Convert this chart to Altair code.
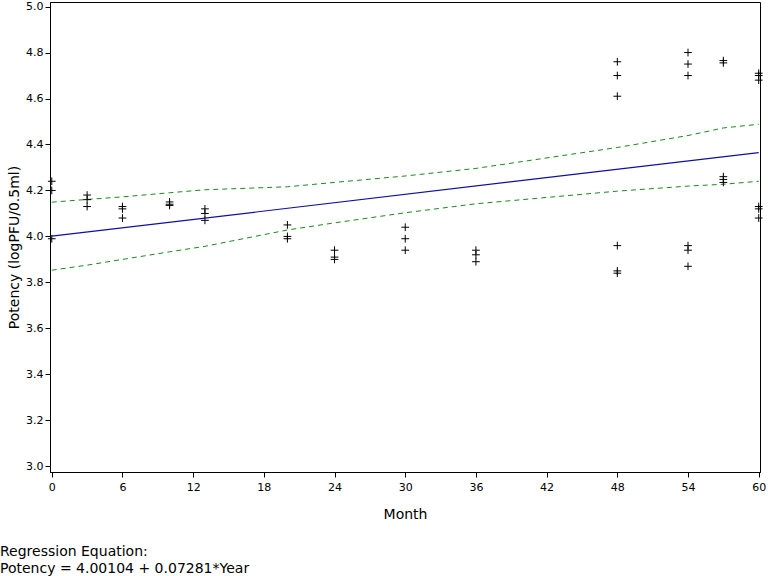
import altair as alt
import pandas as pd

# Observed potency data
months = [0, 0, 0,
          3, 3, 3,
          6, 6, 6,
          10, 10, 10,
          13, 13, 13,
          20, 20, 20,
          24, 24, 24,
          30, 30, 30,
          36, 36, 36,
          48, 48, 48, 48, 48, 48,
          54, 54, 54, 54, 54, 54,
          57, 57, 57, 57, 57,
          60, 60, 60, 60, 60, 60]
potency = [4.24, 4.20, 3.99,
           4.18, 4.16, 4.13,
           4.13, 4.12, 4.08,
           4.15, 4.14, 4.135,
           4.12, 4.10, 4.07,
           4.05, 4.00, 3.99,
           3.94, 3.91, 3.90,
           4.04, 3.99, 3.94,
           3.94, 3.92, 3.89,
           4.76, 4.70, 4.61, 3.96, 3.85, 3.84,
           4.80, 4.75, 4.70, 3.96, 3.94, 3.87,
           4.765, 4.755, 4.26, 4.248, 4.235,
           4.71, 4.70, 4.68, 4.13, 4.12, 4.08]

# Regression line (read endpoints)
reg_months = [0, 60]
reg_values = [4.001, 4.365]

# Confidence band values read at each distinct month
band_months = [0, 3, 6, 10, 13, 20, 24, 30, 36, 48, 54, 57, 60]
band_upper = [4.149, 4.161, 4.172, 4.19, 4.203, 4.216, 4.235, 4.263, 4.296, 4.387, 4.439, 4.472, 4.488]
band_lower = [3.853, 3.875, 3.90, 3.933, 3.957, 4.028, 4.059, 4.103, 4.142, 4.197, 4.219, 4.227, 4.24]

x_ticks = [0, 6, 12, 18, 24, 30, 36, 42, 48, 54, 60]
y_ticks = [3.0, 3.2, 3.4, 3.6, 3.8, 4.0, 4.2, 4.4, 4.6, 4.8, 5.0]

note_line1 = "Regression Equation:"
note_line2 = "Potency = 4.00104 + 0.07281*Year"

FONT = "DejaVu Sans"

pts = pd.DataFrame({"Month": months, "Potency": potency})
reg = pd.DataFrame({"Month": reg_months, "Potency": reg_values})
band = pd.concat([
    pd.DataFrame({"Month": band_months, "Potency": band_upper, "b": "upper"}),
    pd.DataFrame({"Month": band_months, "Potency": band_lower, "b": "lower"}),
])

xs = alt.Scale(domain=[-0.15, 60.11], nice=False, zero=False)
ys = alt.Scale(domain=[2.975, 5.02], nice=False, zero=False)

xax = alt.Axis(values=x_ticks, title="Month", grid=False, labelFontSize=11,
               titleFontSize=14, titleFontWeight="normal", labelPadding=4,
               titlePadding=15, tickSize=5, domainColor="black", tickColor="black",
               labelColor="black", titleColor="black", labelFont=FONT, titleFont=FONT)
yax = alt.Axis(values=y_ticks, format=".1f", title="Potency (logPFU/0.5ml)", grid=False,
               labelFontSize=11, titleFontSize=14, titleFontWeight="normal",
               tickSize=5, labelPadding=2, domainColor="black", tickColor="black",
               labelColor="black", titleColor="black", labelFont=FONT, titleFont=FONT,
               titleX=-29, titleY=245)

points = alt.Chart(pts).mark_point(
    shape="M-1,0H1M0,-1V1", filled=False, stroke="black", strokeWidth=1, size=60, opacity=1
).encode(
    x=alt.X("Month:Q", scale=xs, axis=xax),
    y=alt.Y("Potency:Q", scale=ys, axis=yax),
)

reg_line = alt.Chart(reg).mark_line(color="#1010a0", strokeWidth=1.2).encode(
    x=alt.X("Month:Q", scale=xs, axis=xax),
    y=alt.Y("Potency:Q", scale=ys, axis=yax),
)

band_lines = alt.Chart(band).mark_line(color="#1a8a1a", strokeWidth=1, strokeDash=[5, 4]).encode(
    x=alt.X("Month:Q", scale=xs, axis=xax),
    y=alt.Y("Potency:Q", scale=ys, axis=yax),
    detail="b:N",
)

def note(line, ypix):
    return alt.Chart(pd.DataFrame({"t": [line]})).mark_text(
        align="left", baseline="middle", fontSize=14, font=FONT, color="black"
    ).encode(x=alt.value(-50), y=alt.value(ypix), text="t:N")

chart = alt.layer(
    band_lines, reg_line, points,
    note(note_line1, 550), note(note_line2, 567),
).properties(
    width=710, height=470,
    autosize=alt.AutoSizeParams(type="none"),
    padding={"left": 50, "top": 2, "right": 8, "bottom": 104},
    background="white",
).configure_view(stroke="black", strokeWidth=1).configure_axis(grid=False)

chart.save("out.html", embed_options={"renderer": "svg", "actions": False})
